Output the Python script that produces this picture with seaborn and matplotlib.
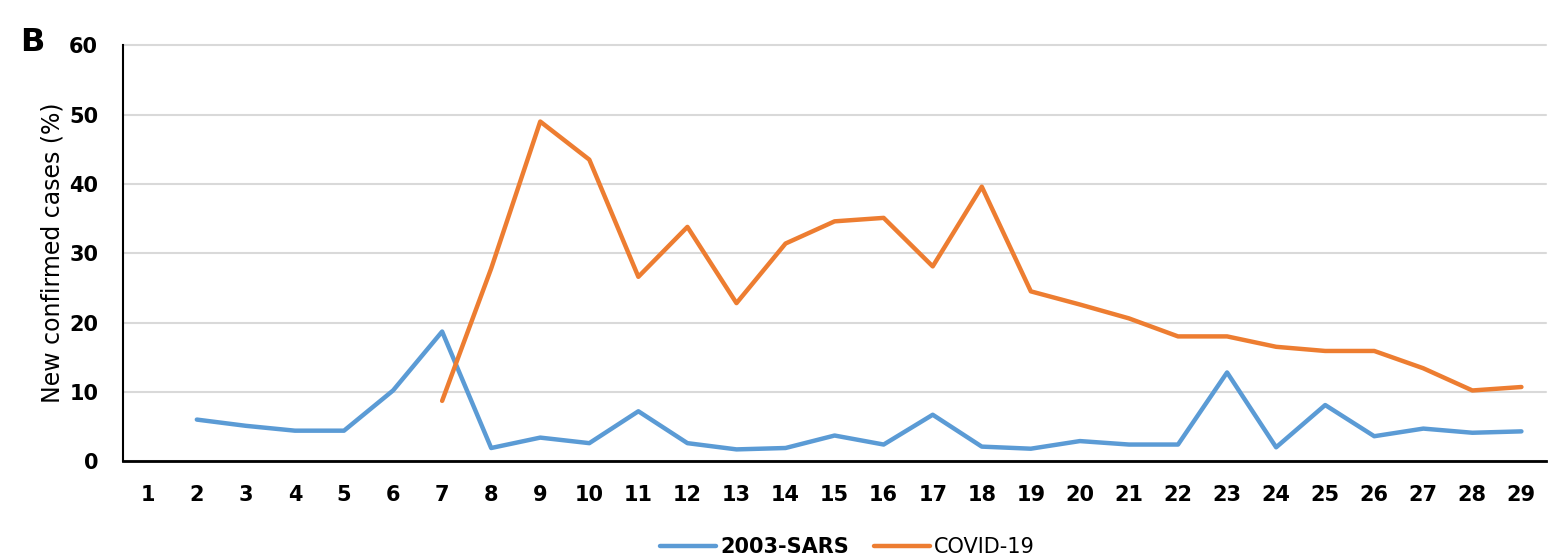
import numpy as np
import pandas as pd
import seaborn as sns
from matplotlib import pyplot as plt

# days on the x axis
days = list(range(1, 30))

# new confirmed cases (%), None = no data
sars = [None, 6.0, 5.1, 4.4, 4.4, 10.2, 18.7, 1.9, 3.4, 2.6,
        7.2, 2.6, 1.7, 1.9, 3.7, 2.4, 6.7, 2.1, 1.8, 2.9,
        2.4, 2.4, 12.8, 2.0, 8.1, 3.6, 4.7, 4.1, 4.3]
covid = [None, None, None, None, None, None, 8.7, 27.8, 49.0, 43.5,
         26.6, 33.8, 22.8, 31.4, 34.6, 35.1, 28.1, 39.6, 24.5, 22.6,
         20.6, 18.0, 18.0, 16.5, 15.9, 15.9, 13.4, 10.2, 10.7]

series_names = ['2003-SARS', 'COVID-19']
colors = ['#5B9BD5', '#ED7D31']

df = pd.DataFrame({'day': days * 2,
                   'value': np.array(sars + covid, dtype=float),
                   'series': [series_names[0]] * len(days) + [series_names[1]] * len(days)})
df = df.dropna()

sns.set_style('white')
plt.rcParams['font.family'] = ['DejaVu Sans']
plt.rcParams['text.color'] = 'black'
plt.rcParams['axes.labelcolor'] = 'black'
plt.rcParams['xtick.color'] = 'black'
plt.rcParams['ytick.color'] = 'black'

fig = plt.figure(figsize=(15.6, 5.59), dpi=100)
ax = fig.add_axes([0.079, 0.175, 0.912, 0.744])

sns.lineplot(data=df, x='day', y='value', hue='series', palette=colors,
             linewidth=3.2, ax=ax, legend=True)

ax.set_xlim(0.5, 29.5)
ax.set_ylim(0, 60)
ax.set_xticks(days)
ax.set_yticks(range(0, 61, 10))
ax.set_xticklabels([str(d) for d in days], fontweight='bold', fontsize=15)
ax.set_yticklabels([str(v) for v in range(0, 61, 10)], fontweight='bold', fontsize=15)
ax.tick_params(axis='both', length=0)
ax.tick_params(axis='x', pad=17)
ax.tick_params(axis='y', pad=18)
ax.yaxis.grid(True, color='#d9d9d9', linewidth=1.5)
for gl in ax.get_ygridlines():
    gl.set_clip_on(False)
ax.set_axisbelow(True)

for side in ['top', 'right']:
    ax.spines[side].set_visible(False)
ax.spines['left'].set_color('black')
ax.spines['left'].set_linewidth(1.5)
ax.spines['bottom'].set_color('black')
ax.spines['bottom'].set_linewidth(2)

ax.set_xlabel('')
ax.set_ylabel('New confirmed cases (%)', fontsize=17, labelpad=3)

leg = ax.legend(loc='center', bbox_to_anchor=(0.509, -0.207), ncol=2,
                frameon=False, fontsize=15, handlelength=2.7,
                handletextpad=0.2, columnspacing=1.2)
leg.get_texts()[0].set_fontweight('bold')

fig.text(0.013, 0.924, 'B', fontsize=23, fontweight='bold', va='center')

plt.savefig('out.png', dpi=100)
